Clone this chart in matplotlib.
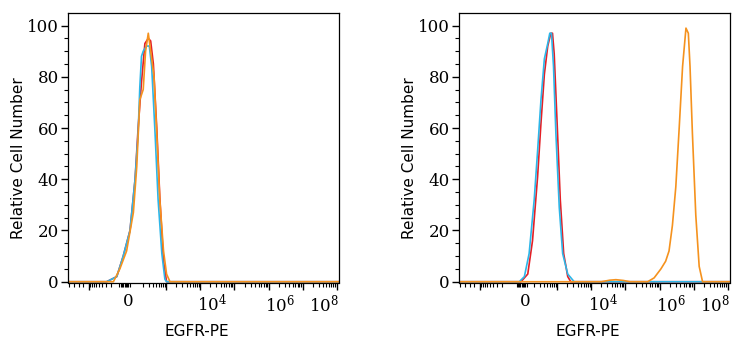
import numpy as np
import matplotlib
matplotlib.use("Agg")
import matplotlib.pyplot as plt
import matplotlib.transforms as mtransforms

plt.rcParams['mathtext.fontset'] = 'dejavuserif'

# ---------------- data (x in axis display units 0..8, y = relative count) ----
# Left panel
L_red_x = [0.0, 1.14, 1.44, 1.63, 1.83, 1.98, 2.07, 2.17, 2.27, 2.37, 2.44, 2.52, 2.62, 2.71, 2.82, 2.91, 8.0]
L_red_y = [0, 0, 2, 10, 20, 40, 60, 78, 93, 95, 94, 85, 60, 33, 8, 0, 0]
L_blue_x = [0.0, 1.14, 1.44, 1.63, 1.83, 1.98, 2.07, 2.12, 2.17, 2.22, 2.32, 2.40, 2.47, 2.57, 2.66, 2.77, 2.86, 2.91, 8.0]
L_blue_y = [0, 0, 2, 10, 20, 40, 58, 76, 88, 90, 92, 92, 84, 58, 32, 11, 1, 0, 0]
L_orange_x = [0.0, 1.34, 1.53, 1.73, 1.93, 2.03, 2.12, 2.22, 2.29, 2.37, 2.44, 2.54, 2.62, 2.71, 2.82, 2.91, 3.01, 8.0]
L_orange_y = [0, 0, 5, 12, 27, 45, 71, 75, 90, 97, 90, 80, 58, 32, 12, 3, 0, 0]

# Right panel
R_red_x = [0.0, 1.83, 2.03, 2.17, 2.32, 2.42, 2.52, 2.62, 2.71, 2.76, 2.81, 2.89, 2.99, 3.09, 3.21, 3.30, 8.0]
R_red_y = [0, 0, 3, 16, 41, 62, 81, 92, 97, 97, 89, 64, 32, 11, 2, 0, 0]
R_blue_x = [0.0, 1.78, 1.93, 2.07, 2.22, 2.32, 2.42, 2.52, 2.62, 2.68, 2.73, 2.79, 2.86, 2.96, 3.06, 3.21, 3.40, 8.0]
R_blue_y = [0, 0, 2, 11, 32, 51, 71, 87, 93, 97, 97, 84, 58, 29, 11, 3, 0, 0]
R_orange_x = [0.0, 4.20, 4.45, 4.63, 4.85, 5.05, 5.57, 5.76, 5.96, 6.10, 6.20, 6.30, 6.40, 6.50, 6.60, 6.70, 6.77, 6.82, 6.89, 6.99, 7.09, 7.19, 8.0]
R_orange_y = [0, 0, 0.6, 0.8, 0.5, 0, 0, 1.5, 5, 8, 12, 22, 37, 60, 84, 99, 97, 84, 58, 26, 6, 0, 0]

# tick labels
x_tick_labels = ["0", "$10^{4}$", "$10^{6}$", "$10^{8}$"]
L_label_pos = [1.77, 4.25, 6.25, 7.55]
R_label_pos = [1.95, 4.25, 6.25, 7.55]
y_ticks = [0, 20, 40, 60, 80, 100]

RED = "#e42026"
BLUE = "#2db6e8"
ORANGE = "#f5921e"

W, H = 743, 350
fig = plt.figure(figsize=(W / 100, H / 100), dpi=100)


def tick_positions(zero):
    majors = [0.62, 2.9, 3.9, 4.9, 5.93, 6.93, 7.93]
    minors = []
    for d in [2.9, 3.9, 4.9, 5.93, 6.93, 7.93]:
        for k in range(2, 10):
            p = d - 1 + np.log10(k)
            if p > zero + 0.08:
                minors.append(p)
    minors += list(np.linspace(zero - 0.25, zero + 0.05, 9))
    for k in range(2, 10):
        minors.append(0.62 + (1 - np.log10(k)) * 0.95)
    minors += [0.02, 0.17, 0.32, 0.45]
    return majors, minors


def make_panel(left_px, curves, label_pos, zero):
    ax = fig.add_axes([left_px / W, (H - 282.5) / H, 271 / W, 269.5 / H])
    for xs, ys, c in curves:
        ax.plot(xs, ys, color=c, lw=1.2, solid_joinstyle='round')
    ax.set_xlim(0, 8)
    ax.set_ylim(-0.3, 104.9)
    for s in ax.spines.values():
        s.set_linewidth(0.9)
        s.set_color("black")
    ax.set_yticks(y_ticks)
    ax.set_yticks(np.arange(0, 105, 5), minor=True)
    ax.set_yticklabels([str(v) for v in y_ticks], family="DejaVu Serif", fontsize=12)
    majors, minors = tick_positions(zero)
    ax.set_xticks(majors)
    ax.set_xticks(minors, minor=True)
    ax.set_xticklabels([])
    ax.tick_params(axis='both', which='major', direction='out', length=5, width=1, color='black', pad=1.5)
    ax.tick_params(axis='both', which='minor', direction='out', length=3, width=0.8, color='black')
    trans = mtransforms.blended_transform_factory(ax.transData, ax.transAxes) + \
        mtransforms.ScaledTranslation(0, -11 / 100, fig.dpi_scale_trans)
    for p, t in zip(label_pos, x_tick_labels):
        ax.text(p, 0, t, transform=trans, ha='center', va='top',
                family="DejaVu Serif", fontsize=12)
    ax.set_xlabel("EGFR-PE", fontsize=11, family="DejaVu Sans", labelpad=0)
    ax.xaxis.set_label_coords(0.475, -0.155)
    ax.set_ylabel("Relative Cell Number", fontsize=11, family="DejaVu Sans")
    ax.yaxis.set_label_coords(-0.155, 0.46)
    return ax


make_panel(68, [(L_red_x, L_red_y, RED), (L_blue_x, L_blue_y, BLUE),
                (L_orange_x, L_orange_y, ORANGE)], L_label_pos, 1.77)
make_panel(459, [(R_red_x, R_red_y, RED), (R_blue_x, R_blue_y, BLUE),
                 (R_orange_x, R_orange_y, ORANGE)], R_label_pos, 1.95)

fig.savefig("out.png", dpi=100)
